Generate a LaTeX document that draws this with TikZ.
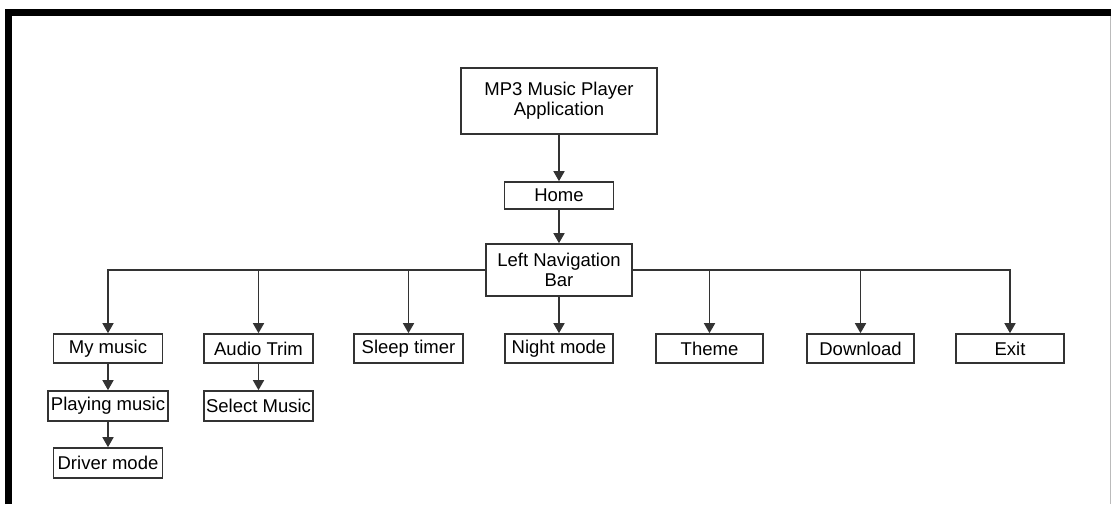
\documentclass[tikz,border=0pt]{standalone}
\usepackage{fontspec}
\setmainfont{Liberation Sans}
\usetikzlibrary{arrows.meta}
\definecolor{edge}{HTML}{333333}
\definecolor{frameR}{HTML}{BBBBBB}
\begin{document}
\begin{tikzpicture}[x=1pt,y=-1pt,
  box/.style={draw=edge,line width=1.6pt,fill=white,inner sep=0pt,
    align=center,font=\fontsize{18.5}{20}\selectfont,text=black},
  link/.style={draw=edge,line width=1.5pt,
    -{Triangle[width=11pt,length=10pt]}}]
\useasboundingbox (0,0) rectangle (1111,504);
\fill[white] (0,0) rectangle (1111,504);
% outer frame
\draw[line width=7pt] (8,504) -- (8,12.5) -- (1111,12.5);
\draw[frameR,line width=1pt] (1110.5,16) -- (1110.5,504);

% top of the hierarchy
\node[box,minimum width=196pt,minimum height=66pt] (app) at (559,101) {MP3 Music Player\\Application};
\node[box,minimum width=109pt,minimum height=27pt] (home) at (559,195.5) {Home};
\node[box,minimum width=146pt,minimum height=52pt] (nav) at (559,270) {Left Navigation\\Bar};

% first level menu entries
\node[box,minimum width=109pt,minimum height=29pt] (mymusic) at (108,348.5) {My music};
\node[box,minimum width=109pt,minimum height=29pt] (trim) at (258.5,348.5) {Audio Trim};
\node[box,minimum width=109pt,minimum height=29pt] (sleep) at (408.5,348.5) {Sleep timer};
\node[box,minimum width=108pt,minimum height=29pt] (night) at (559,348.5) {Night mode};
\node[box,minimum width=107pt,minimum height=29pt] (theme) at (709.5,348.5) {Theme};
\node[box,minimum width=107pt,minimum height=29pt] (download) at (860.5,348.5) {Download};
\node[box,minimum width=108pt,minimum height=29pt] (exit) at (1010,348.5) {Exit};

% second and third level entries
\node[box,minimum width=120pt,minimum height=30pt] (playing) at (108,406) {Playing music};
\node[box,minimum width=109pt,minimum height=30pt] (driver) at (108,463) {Driver mode};
\node[box,minimum width=109pt,minimum height=30pt] (select) at (258.5,406) {Select Music};

% connectors
\draw[link] (app.south) -- (home.north);
\draw[link] (home.south) -- (nav.north);
\draw[link] (nav.west) -| (mymusic.north);
\draw[link] (nav.west -| trim.north) -- (trim.north);
\draw[link] (nav.west -| sleep.north) -- (sleep.north);
\draw[link] (nav.south) -- (night.north);
\draw[link] (nav.east -| theme.north) -- (theme.north);
\draw[link] (nav.east -| download.north) -- (download.north);
\draw[link] (nav.east) -| (exit.north);
\draw[link] (mymusic.south) -- (playing.north);
\draw[link] (playing.south) -- (driver.north);
\draw[link] (trim.south) -- (select.north);
\end{tikzpicture}
\end{document}
